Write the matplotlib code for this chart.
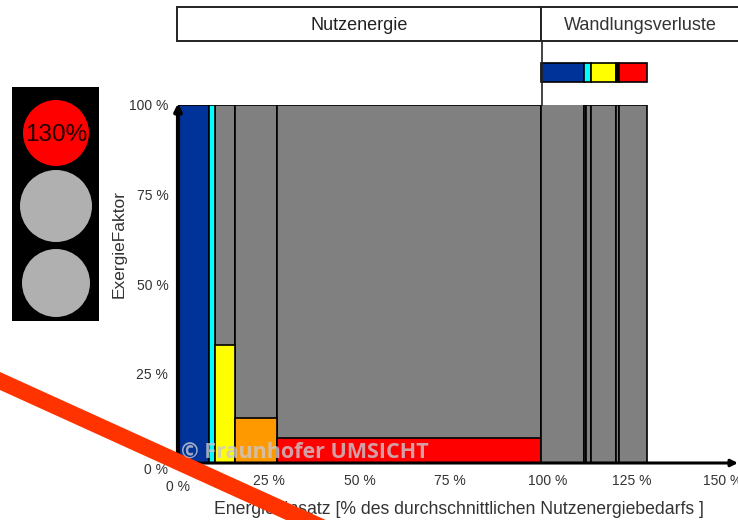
import matplotlib
matplotlib.use('Agg')
import matplotlib.pyplot as plt
from matplotlib.patches import Rectangle, Circle, Polygon
from matplotlib.transforms import ScaledTranslation

# values, all in % of the useful energy demand
use_left = [0, 8.6, 10.2, 15.7, 27.3]
use_width = [8.6, 1.6, 5.5, 11.6, 72.7]
use_factor = [100, 100, 33, 12.5, 7]
use_colors = ['#003399', '#00ffff', '#ffff00', '#ff9900', '#ff0000']

loss_left = [100, 111.9, 112.4, 113.8, 120.7, 121.5]
loss_width = [11.9, 0.5, 1.4, 6.9, 0.8, 7.7]
loss_top = [101, 100, 100, 100, 100, 100]

strip_left = [100, 111.9, 113.8, 120.7, 121.5]
strip_width = [11.9, 1.9, 6.9, 0.8, 7.7]
strip_colors = ['#003399', '#00ffff', '#ffff00', 'black', '#ff0000']

x_ticks = [25, 50, 75, 100, 125, 150]
x_labels = ['25 %', '50 %', '75 %', '100 %', '125 %', '150 %']
y_ticks = [0, 25, 50, 75, 100]
y_labels = ['0 %', '25 %', '50 %', '75 %', '100 %']

plt.rcParams['font.family'] = ['Liberation Sans', 'DejaVu Sans']
W, H = 738, 520
fig = plt.figure(figsize=(W / 100, H / 100), dpi=100)

# main chart
ax = fig.add_axes([178 / W, (H - 463) / H, 560 / W, 358 / H])
ax.set_xlim(0, 154.3)
ax.set_ylim(0, 100)
for s in ax.spines.values():
    s.set_visible(False)

# grey = exergy loss part of each column
ax.bar(use_left, 100, width=use_width, align='edge', color='#808080', edgecolor='black', linewidth=1.2)
ax.bar(use_left, use_factor, width=use_width, align='edge', color=use_colors, edgecolor='black', linewidth=1.2)
ax.bar(loss_left, loss_top, width=loss_width, align='edge', color='#808080', edgecolor='black', linewidth=1.2)
ax.barh(109, strip_width, left=strip_left, height=5.3, color=strip_colors, edgecolor='black',
        linewidth=1.2, clip_on=False)

# axis arrows
ax.annotate('', xy=(0, 100.5), xytext=(0, 0), annotation_clip=False,
            arrowprops=dict(arrowstyle='-|>', color='black', lw=3, shrinkA=0, shrinkB=0))
ax.annotate('', xy=(154.3, 0), xytext=(0, 0), annotation_clip=False,
            arrowprops=dict(arrowstyle='-|>', color='black', lw=2.2, shrinkA=0, shrinkB=0))

ax.set_xticks(x_ticks, x_labels, fontsize=10, color='#333333')
ax.set_yticks(y_ticks, y_labels, fontsize=10, color='#333333')
ax.tick_params(axis='x', length=0, pad=8)
ax.tick_params(axis='y', length=0, pad=7)
# labels that sit off their tick in the original
ax.get_xticklabels()[3].set_transform(
    ax.get_xticklabels()[3].get_transform() + ScaledTranslation(7 / 100, 0, fig.dpi_scale_trans))
ax.get_yticklabels()[0].set_transform(
    ax.get_yticklabels()[0].get_transform() + ScaledTranslation(0, -5 / 100, fig.dpi_scale_trans))

ax.set_ylabel('ExergieFaktor', fontsize=12.5, color='#333333', labelpad=1.5, y=0.612)
ax.set_xlabel('Energieeinsatz [% des durchschnittlichen Nutzenergiebedarfs ]', fontsize=12.7,
              color='#333333', labelpad=9, x=0.502)
ax.text(0, -6.7, '0 %', fontsize=10, color='#333333', ha='center', va='center', clip_on=False)

# everything else is placed in pixels
ov = fig.add_axes([0, 0, 1, 1], zorder=5)
ov.set_xlim(0, W)
ov.set_ylim(H, 0)
ov.axis('off')

ov.add_patch(Rectangle((177, 7), 364, 34, fc='white', ec='#222222', lw=1.4))
ov.add_patch(Rectangle((541, 7), 210, 34, fc='white', ec='#222222', lw=1.4))
ov.plot([542, 542], [41, 105], color='#222222', lw=1.2)
ov.text(359, 25, 'Nutzenergie', fontsize=13, color='#222222', ha='center', va='center')
ov.text(640, 25, 'Wandlungsverluste', fontsize=13, color='#333333', ha='center', va='center')

# traffic light
ov.add_patch(Rectangle((12, 87), 87, 234, fc='black', ec='none'))
ov.add_patch(Circle((56, 133), 33, fc='#ff0000', ec='none'))
ov.add_patch(Circle((56, 206), 36, fc='#b0b0b0', ec='none'))
ov.add_patch(Circle((56, 283), 34, fc='#b0b0b0', ec='none'))
ov.text(56, 135, '130%', fontsize=17.5, color='#220000', ha='center', va='center')

ov.text(181, 452, '© Fraunhofer UMSICHT', fontsize=15.5, fontweight='bold', color='#c8c8d0',
        alpha=0.8, ha='left', va='center', family=['Open Sans', 'DejaVu Sans'])

# red strike-through, a polygon so it runs cleanly off the canvas
ov.add_patch(Polygon([(0, 372), (340, 526.5), (340, 544.5), (0, 390)], fc='#ff3300', ec='none'))

fig.savefig('out.png', dpi=100)
